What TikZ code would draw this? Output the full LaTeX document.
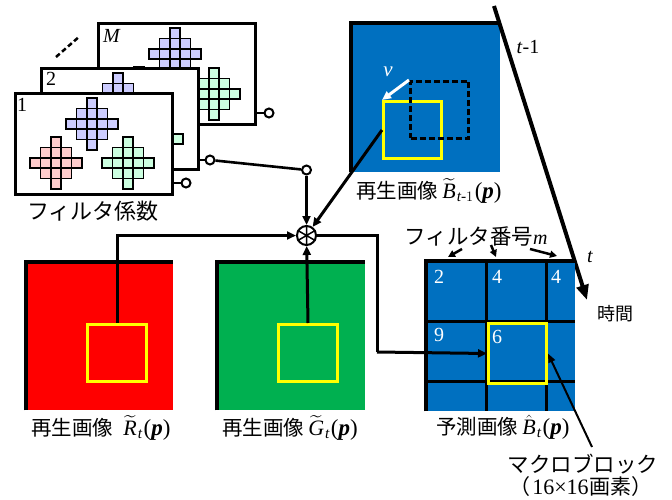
\documentclass[tikz,border=0pt]{standalone}
\usepackage{amsmath}
\usepackage{fontspec}
\setmainfont{Liberation Serif}
\newfontfamily\jp{Noto Sans CJK JP}
\usetikzlibrary{arrows.meta}

\definecolor{imgblue}{HTML}{0070C0}
\definecolor{imgred}{HTML}{FF0000}
\definecolor{imggreen}{HTML}{00B050}
\definecolor{mbyellow}{HTML}{FFFF00}
\definecolor{pixpink}{HTML}{FFCCCC}
\definecolor{pixviolet}{HTML}{CCCCFF}
\definecolor{pixmint}{HTML}{CCFFE0}

\newcommand\J[1]{{\jp\fontsize{20.5}{22}\selectfont #1}}
\newcommand\Pp{\kern1pt{\fontsize{23}{24}\selectfont(\textbf{\textit{p}})}}

% one 5x5 diamond of filter taps, centred at (#1,#2), filled with #3
\newcommand\pixdiamond[3]{%
  \foreach \i in {-2,...,2}{%
    \foreach \j in {-2,...,2}{%
      \pgfmathtruncatemacro\dd{abs(\i)+abs(\j)}%
      \ifnum\dd<3
        \filldraw[pixel, fill=#3] ({#1+(\i)*10.4-5.2},{#2+(\j)*10.4-5.2}) rectangle ++(10.4,10.4);
      \fi
    }}}

\tikzset{
  card/.style={draw, fill=white, line width=2.6pt, minimum width=157pt,
    minimum height=101pt, anchor=north west, inner sep=0pt},
  term/.style={circle, draw, fill=white, line width=2pt, minimum size=9pt, inner sep=0pt},
  pixel/.style={draw, line width=1.5pt},
  wire/.style={line width=3pt},
  arr/.style={wire, -{Triangle[length=9pt,width=8pt]}},
  txt/.style={font=\fontsize{20}{22}\selectfont, inner sep=0pt},
  captxt/.style={font=\fontsize{22}{24}\selectfont, inner sep=0pt},
  cardnum/.style={txt, anchor=base west},
  num/.style={txt, text=white, anchor=base west},
  img/.style={anchor=north west, inner sep=0pt, minimum width=149pt, minimum height=149pt},
  mb/.style={draw=mbyellow, line width=3pt, inner sep=0pt, anchor=north west},
  edgeline/.style={line width=4pt},
}

\begin{document}
\begin{tikzpicture}[x=1pt, y=-1pt]
\useasboundingbox (0,0) rectangle (672,500);

% ---------------- filter coefficient cards ----------------
\node[card] (cardM) at (97,22) {};
\pixdiamond{97+42}{22+71}{pixpink}
\pixdiamond{97+78}{22+32}{pixviolet}
\pixdiamond{97+117}{22+72}{pixmint}
\node[cardnum] (labM) at (103,43) {\textit{M}};
\node[term] (tM) at (269,113) {};
\draw[line width=2.6pt] (cardM.east |- tM) -- (tM);

\node[card] (card2) at (40,67) {};
\pixdiamond{40+42}{67+71}{pixpink}
\pixdiamond{40+78}{67+32}{pixviolet}
\pixdiamond{40+117}{67+72}{pixmint}
\node[cardnum] (lab2) at (46,86) {2};
\node[term] (t2) at (210,160) {};
\draw[line width=2.6pt] (card2.east |- t2) -- (t2);

\node[card] (card1) at (14,92) {};
\pixdiamond{14+42}{92+71}{pixpink}
\pixdiamond{14+78}{92+32}{pixviolet}
\pixdiamond{14+114}{92+71}{pixmint}
\node[cardnum] (lab1) at (17,112) {1};
\node[term] (t1) at (186,183) {};
\draw[line width=2.6pt] (card1.east |- t1) -- (t1);

\draw[line width=2.5pt, dash pattern=on 5pt off 3pt] (56,57) -- (80,36);
\node[txt, font=\jp\fontsize{22}{24}\selectfont] (coefcap) at (93,211) {フィルタ係数};

% ---------------- reference frame t-1 ----------------
\node[img, fill=imgblue] (refimg) at (351,23) {};
\draw[edgeline] (refimg.south west) -- (refimg.north west) -- (refimg.north east);
\node[mb, minimum width=58pt, minimum height=57pt] (refmb) at (382,100) {};
\node[draw, dash pattern=on 6pt off 3pt, line width=3pt, inner sep=0pt, anchor=north west,
      minimum width=58pt, minimum height=57pt] (refold) at (409,80) {};
\draw[line width=3pt, white, -{Triangle[length=9pt,width=8pt]}] (refold.north west) -- (refmb.north west);
\node[txt, text=white, font=\itshape\fontsize{21}{22}\selectfont] (vlab) at (388,72) {v};
\node[captxt] (refcap) at (429,191) {\J{再生画像}\kern4pt$\widetilde{\textit{B}}_{\kern1pt\textit{t}\text{-}1}$\Pp};

% ---------------- time axis ----------------
\coordinate (tstart) at (494,6);
\coordinate (tend) at (587,300);
\draw[line width=4pt, -{Triangle[length=15pt,width=12pt]}] (tstart) -- (tend);
\node[txt] (tm1) at (528,47) {\textit{t}-1};
\node[txt] (tnow) at (590,257) {\textit{t}};
\node[txt, font=\jp\fontsize{18}{20}\selectfont] (timecap) at (615,314) {時間};

% ---------------- red and green frames ----------------
\node[img, fill=imgred, minimum width=147pt, minimum height=148pt] (redimg) at (26,262) {};
\draw[edgeline] (redimg.south west) -- (redimg.north west) -- (redimg.north east);
\node[mb, minimum width=59pt, minimum height=57pt] (redmb) at (86,323) {};
\node[captxt] (redcap) at (101,428) {\J{再生画像}\kern10pt$\widetilde{\textit{R}}_{\kern1pt\textit{t}}$\Pp};

\node[img, fill=imggreen, minimum width=148pt, minimum height=148pt] (greenimg) at (217,262) {};
\draw[edgeline] (greenimg.south west) -- (greenimg.north west) -- (greenimg.north east);
\node[mb, minimum width=59pt, minimum height=57pt] (greenmb) at (277,323) {};
\node[captxt] (greencap) at (290,428) {\J{再生画像}\kern4pt$\widetilde{\textit{G}}_{\kern1pt\textit{t}}$\Pp};

% ---------------- predicted frame ----------------
\node[img, fill=imgblue, minimum width=149pt, minimum height=150pt] (predimg) at (426,261) {};
\draw[edgeline] (predimg.south west) -- (predimg.north west) -- (predimg.north east);
\draw[line width=3pt] (486,261) -- (486,411) (546,261) -- (546,411)
  (426,321) -- (575,321) (426,381) -- (575,381);
\node[mb, minimum width=58pt, minimum height=60pt] (predmb) at (487,322) {};
\node[num] (n11) at (434,283) {2};
\node[num] (n12) at (492,283) {4};
\node[num] (n13) at (551,283) {4};
\node[num] (n21) at (434,341) {9};
\node[num] (n22) at (492,343) {6};
\node[captxt] (predcap) at (503,427) {\J{予測画像}\kern4pt$\hat{\textit{B}}_{\kern1pt\textit{t}}$\Pp};

\node[txt] (fnum) at (476,236) {{\jp\fontsize{21.5}{22}\selectfont フィルタ番号}\textit{m}};
\coordinate (fa1) at (462,249);
\coordinate (fa2) at (491,245);
\coordinate (fa3) at (530,249);
\draw[line width=2.5pt, -{Triangle[length=7pt,width=7pt]}] (fa1) -- (448,257);
\draw[line width=2.5pt, -{Triangle[length=7pt,width=7pt]}] (fa2) -- (496,257);
\draw[line width=2.5pt, -{Triangle[length=7pt,width=7pt]}] (fa3) -- (557,256);

% macroblock callout
\coordinate (mbtail) at (592,447);
\draw[line width=2pt, -{Triangle[length=9pt,width=7pt]}] (mbtail) -- (predmb.east);
\node[txt, font=\jp\fontsize{21.5}{22}\selectfont] (mbcap1) at (583,464) {マクロブロック};
\node[txt, font=\fontsize{22}{24}\selectfont] (mbcap2) at (581,487) {{\jp\fontsize{21}{22}\selectfont （}\kern2pt16×16\kern1pt{\jp\fontsize{21}{22}\selectfont 画素）}};

% ---------------- filter switch and multiplier ----------------
\node[circle, draw, fill=white, line width=2pt, minimum size=19pt, inner sep=0pt] (mul) at (306.5,235.5) {};
\draw[line width=1.5pt] (mul.north) -- (mul.south) (mul.30) -- (mul.210) (mul.150) -- (mul.330);
\node[term] (sw) at (306.5,170) {};
\draw[line width=2.6pt] (t2) -- (sw);
\draw[arr] (sw) -- (mul);
\draw[arr] (refmb.west) -- (mul);
\draw[arr] (redmb.north) |- (mul);
\draw[arr] (greenmb.north) -- (mul);
\coordinate (bend) at (377,352);
\draw[wire] (mul.east) -| (bend);
\draw[arr] (bend) -- (predmb.west);
\end{tikzpicture}
\end{document}
